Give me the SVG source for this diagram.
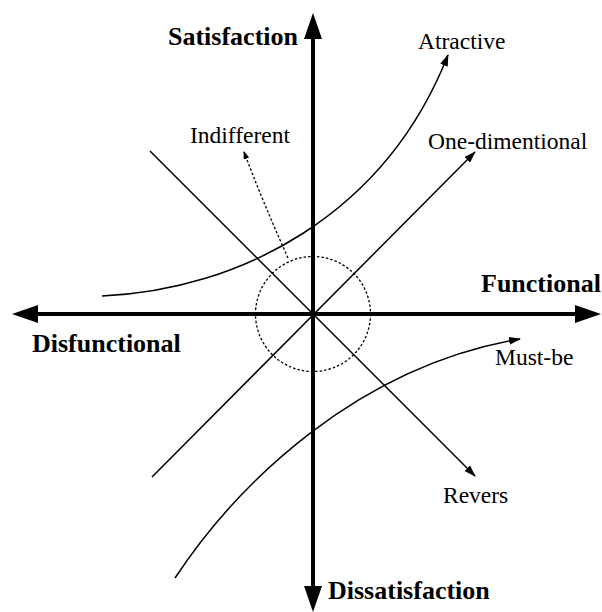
<svg xmlns="http://www.w3.org/2000/svg" width="602" height="612" viewBox="0 0 602 612">
<style>
.bold{font-family:"Liberation Serif","Times New Roman",serif;font-weight:bold;font-size:26px;fill:#000}
.lbl{font-family:"Liberation Serif","Times New Roman",serif;font-size:23.5px;fill:#000}
.axis{stroke:#000;stroke-width:4;fill:none}
.thin{stroke:#000;stroke-width:1.5;fill:none}
.dot{stroke:#000;stroke-width:1.3;fill:none;stroke-dasharray:2.5 2}
</style>
<defs>
<marker id="big" markerUnits="userSpaceOnUse" markerWidth="26" markerHeight="18" viewBox="0 0 26 18" refX="9" refY="9" orient="auto-start-reverse">
<path d="M0,0 L26,9 L0,18 z" fill="#000"/>
</marker>
<marker id="small" markerUnits="userSpaceOnUse" markerWidth="12" markerHeight="8" viewBox="0 0 12 8" refX="11" refY="4" orient="auto">
<path d="M0,0 L12,4 L0,8 z" fill="#000"/>
</marker>
<marker id="tiny" markerUnits="userSpaceOnUse" markerWidth="8" markerHeight="6" viewBox="0 0 8 6" refX="7" refY="3" orient="auto">
<path d="M0,0 L8,3 L0,6 z" fill="#000"/>
</marker>
</defs>
<g id="connectors">
<line class="axis" x1="313" y1="30" x2="313" y2="595" marker-start="url(#big)" marker-end="url(#big)"/>
<line class="axis" x1="29" y1="314" x2="584" y2="314" marker-start="url(#big)" marker-end="url(#big)"/>
<path id="revers-line" class="thin" d="M150,151 L475,476" marker-end="url(#small)"/>
<path id="onedim-line" class="thin" d="M152,477 L475,152" marker-end="url(#small)"/>
<path id="atractive-curve" class="thin" d="M102,296 C240,290 385,215 448,55" marker-end="url(#small)"/>
<path id="mustbe-curve" class="thin" d="M175,578 C240,480 360,366 520,339" marker-end="url(#small)"/>
<path id="indifferent-arrow" class="dot" d="M288,258 Q262,200 244,152" marker-end="url(#tiny)"/>
</g>
<g id="indifferent-zone">
<circle class="dot" cx="313" cy="314" r="57.5"/>
</g>
<g id="satisfaction"><text class="bold" x="168" y="45">Satisfaction</text></g>
<g id="dissatisfaction"><text class="bold" x="328" y="599">Dissatisfaction</text></g>
<g id="functional"><text class="bold" x="481" y="292">Functional</text></g>
<g id="disfunctional"><text class="bold" x="32" y="352">Disfunctional</text></g>
<g id="atractive"><text class="lbl" x="418" y="49">Atractive</text></g>
<g id="one-dimentional"><text class="lbl" x="428" y="149">One-dimentional</text></g>
<g id="indifferent"><text class="lbl" x="190" y="143">Indifferent</text></g>
<g id="must-be"><text class="lbl" x="495" y="365">Must-be</text></g>
<g id="revers"><text class="lbl" x="443" y="503">Revers</text></g>
</svg>
